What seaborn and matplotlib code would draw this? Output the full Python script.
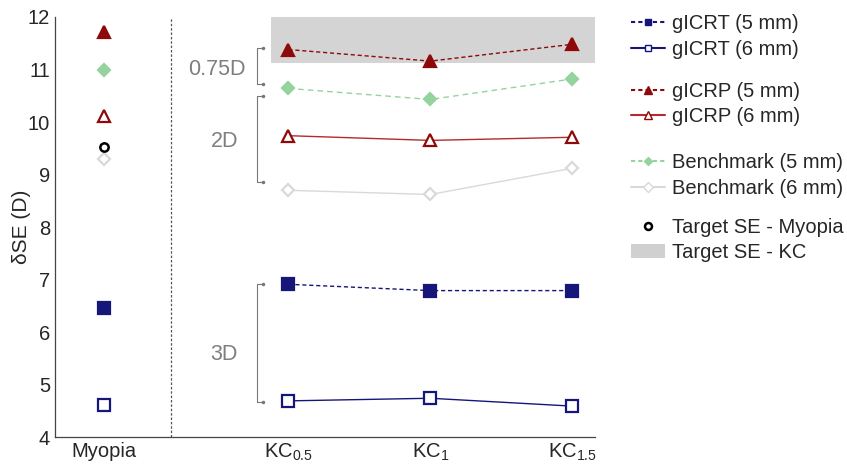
import numpy as np
import pandas as pd
import matplotlib
matplotlib.use('Agg')
import matplotlib.pyplot as plt
from matplotlib.lines import Line2D
from matplotlib.patches import Patch
import seaborn as sns

# --- données ---
kc_labels = [r'KC$_{\mathregular{0.5}}$', r'KC$_{\mathregular{1}}$', r'KC$_{\mathregular{1.5}}$']
glcrt_5 = [6.91, 6.79, 6.79]
glcrt_6 = [4.69, 4.74, 4.59]
glcrp_5 = [11.38, 11.16, 11.48]
glcrp_6 = [9.74, 9.65, 9.71]
bench_5 = [10.64, 10.43, 10.82]
bench_6 = [8.70, 8.62, 9.12]

myopia_glcrt_5 = 6.46
myopia_glcrt_6 = 4.62
myopia_glcrp_5 = 11.71
myopia_glcrp_6 = 10.11
myopia_bench_5 = 11.0
myopia_bench_6 = 9.3
target_myopia = 9.52
target_kc = [11.12, 12.0]

# (haut, bas, texte, y du texte, x droit du texte)
brackets = [(11.41, 10.72, '0.75D', 11.0, 1.0),
            (10.50, 8.86, '2D', 9.62, 0.945),
            (6.92, 4.66, '3D', 5.58, 0.94)]

x_myopia = 0.0
x_kc = [1.3, 2.3, 3.3]

navy = '#16167a'
dred = '#8e0a0a'
red = '#b52a2a'
green = '#95d39e'
lgrey = '#d9d9d9'

sns.set_style('white')
plt.rcParams['font.family'] = ['Liberation Sans', 'DejaVu Sans']

fig = plt.figure(figsize=(8.47, 4.67), dpi=100)
ax = fig.add_axes([0.0649, 0.064, 0.6375, 0.8996])

# bande cible KC
ax.axhspan(target_kc[0], target_kc[1], xmin=(1.18 + 0.345) / 3.805, xmax=1.0,
           color='#d4d4d4', lw=0, zorder=0)

series = [
    (bench_6, myopia_bench_6, '-', 'D', 'white', lgrey, lgrey, 6),
    (bench_5, myopia_bench_5, (0, (4, 3)), 'D', green, green, green, 6),
    (glcrp_6, myopia_glcrp_6, '-', '^', 'white', red, dred, 9),
    (glcrp_5, myopia_glcrp_5, (0, (3, 2)), '^', dred, dred, dred, 9),
    (glcrt_6, myopia_glcrt_6, '-', 's', 'white', navy, navy, 8),
    (glcrt_5, myopia_glcrt_5, (0, (3, 2)), 's', navy, navy, navy, 8),
]
for vals, myo, ls, mk, fc, lc, ec, ms in series:
    df = pd.DataFrame({'x': x_kc, 'y': vals})
    sns.lineplot(data=df, x='x', y='y', ax=ax, color=lc, linestyle=ls, lw=1.0,
                 marker=mk, markersize=ms, markerfacecolor=fc, markeredgecolor=ec,
                 markeredgewidth=1.6, zorder=3)
    ax.plot([x_myopia], [myo], marker=mk, markersize=ms, markerfacecolor=fc,
            markeredgecolor=ec, markeredgewidth=1.6, ls='none', zorder=3)

ax.plot([x_myopia], [target_myopia], marker='o', markersize=6, markerfacecolor='white',
        markeredgecolor='black', markeredgewidth=1.8, ls='none', zorder=3)

# séparateur
ax.axvline(0.472, color='#555555', lw=0.9, ls=(0, (2, 1.5)))

# accolades
for top, bot, lab, ylab, xlab in brackets:
    xb, xe = 1.077, 1.12
    ax.plot([xe, xb, xb, xe], [top, top, bot, bot], color='#777777', lw=0.8)
    ax.plot([xe, xe], [top, bot], ls='none', marker='.', ms=3, color='#777777')
    ax.text(xlab, ylab, lab, ha='right', va='center', fontsize=15.5, color='#7f7f7f')

ax.set_xlim(-0.345, 3.46)
ax.set_ylim(4, 12)
ax.set_xticks([x_myopia] + x_kc)
ax.set_xticklabels(['Myopia'] + kc_labels)
ax.set_yticks(range(4, 13))
ax.set_xlabel('')
ax.set_ylabel('δSE (D)', fontsize=15)
ax.yaxis.set_label_coords(-0.045, 0.5)
ax.tick_params(direction='in', length=4, labelsize=14.5, color='#444444')
for s in ['top', 'right']:
    ax.spines[s].set_visible(False)
for s in ['left', 'bottom']:
    ax.spines[s].set_color('#444444')
    ax.spines[s].set_linewidth(0.9)

# légende, en quatre groupes
groups = [
    ([Line2D([], [], color=navy, ls=(0, (2, 1.5)), marker='s', ms=5, mfc=navy, mec=navy),
      Line2D([], [], color=navy, ls='-', marker='s', ms=5, mfc='white', mec=navy)],
     ['gICRT (5 mm)', 'gICRT (6 mm)'], 36.5),
    ([Line2D([], [], color=dred, ls=(0, (2, 1.5)), marker='^', ms=6, mfc=dred, mec=dred),
      Line2D([], [], color=red, ls='-', marker='^', ms=6, mfc='white', mec=dred)],
     ['gICRP (5 mm)', 'gICRP (6 mm)'], 104),
    ([Line2D([], [], color=green, ls=(0, (2, 1.5)), marker='D', ms=4, mfc=green, mec=green),
      Line2D([], [], color=lgrey, ls='-', marker='D', ms=5, mfc='white', mec=lgrey)],
     ['Benchmark (5 mm)', 'Benchmark (6 mm)'], 175.5),
    ([Line2D([], [], ls='none', marker='o', ms=5, mfc='white', mec='black', mew=1.8),
      Patch(facecolor='#d0d0d0', edgecolor='none')],
     ['Target SE - Myopia', 'Target SE - KC'], 240),
]
for handles, labels, yc in groups:
    fig.legend(handles, labels, loc='center left', bbox_to_anchor=(0.745, 1 - yc / 467),
               frameon=False, fontsize=14.5, handlelength=1.7, handletextpad=0.35,
               labelspacing=0.33, borderaxespad=0, borderpad=0)

fig.savefig('out.png', dpi=100)
